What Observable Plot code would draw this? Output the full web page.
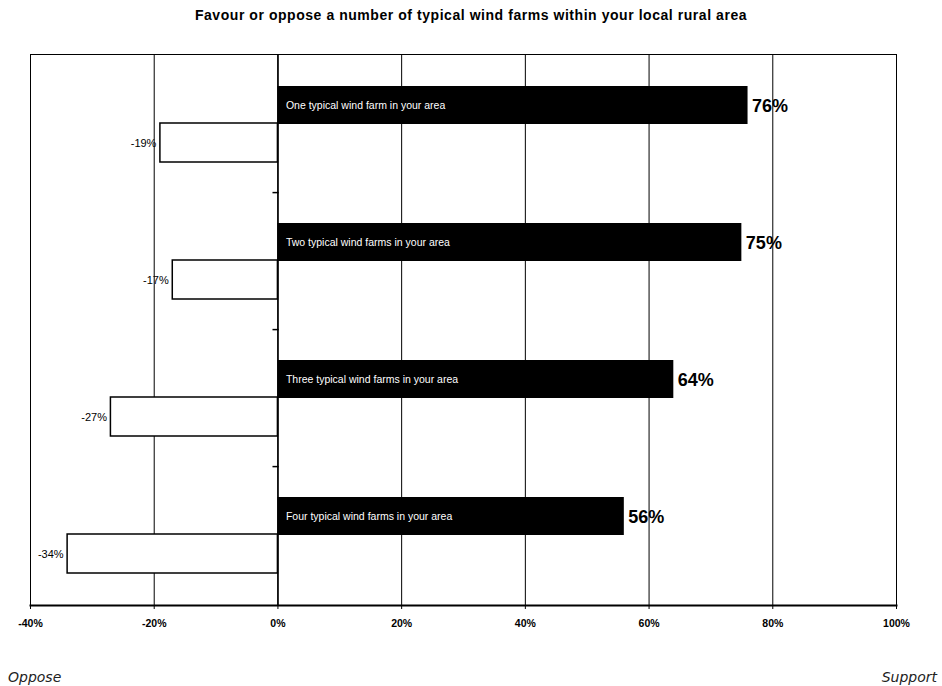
<!DOCTYPE html>
<html>
<head>
<meta charset="utf-8">
<script src="https://cdn.jsdelivr.net/npm/d3@7"></script>
<script src="https://cdn.jsdelivr.net/npm/@observablehq/plot@0.6"></script>
<style>
  body { margin:0; width:942px; height:686px; background:#fff; overflow:hidden; font-family:"Liberation Sans", Arial, sans-serif; }
  #title { height:30px; line-height:30px; text-align:center; font-weight:bold; font-size:14px; letter-spacing:0.55px; color:#000; }
  #chart svg { display:block; }
  #chart g[aria-label="x-axis tick label"] text { font-weight:bold; }
  #captions { position:relative; height:36px; font-family:"DejaVu Sans", sans-serif; font-style:italic; font-size:14px; color:#222; }
  #captions span { position:absolute; top:18px; line-height:18px; }
</style>
</head>
<body>
<div id="title">Favour or oppose a number of typical wind farms within your local rural area</div>
<div id="chart"></div>
<div id="captions"><span style="left:8px">Oppose</span><span style="right:5px">Support</span></div>
<script>
const categories = [
  "One typical wind farm in your area",
  "Two typical wind farms in your area",
  "Three typical wind farms in your area",
  "Four typical wind farms in your area"
];
const support = [76, 75, 64, 56];
const oppose = [-19, -17, -27, -34];
const xTicks = [-40, -20, 0, 20, 40, 60, 80, 100];

const rows = categories.map((c, i) => ({category: c, support: support[i], oppose: oppose[i]}));
const pct = d => d + "%";

const chart = Plot.plot({
  width: 942,
  height: 620,
  marginTop: 24,
  marginBottom: 45,
  marginLeft: 30,
  marginRight: 46,
  style: {fontFamily: "'Liberation Sans Narrow', 'Liberation Sans', Arial, sans-serif", fontSize: "10.5px", color: "#000", background: "#fff"},
  x: {domain: [-40, 100], ticks: xTicks, tickFormat: pct, label: null, tickSize: 4, tickPadding: 10},
  y: {domain: categories, paddingInner: 0.442, paddingOuter: 0.221, axis: null},
  marks: [
    Plot.ruleX(xTicks, {stroke: "#000", strokeWidth: 1}),
    Plot.frame({stroke: "#000", strokeWidth: 1}),
    Plot.frame({anchor: "bottom", stroke: "#000", strokeWidth: 2}),
    Plot.barX(rows, {x: "support", y: "category", fill: "#000", insetBottom: 38}),
    Plot.barX(rows, {x: "oppose", y: "category", fill: "#fff", stroke: "#000", strokeWidth: 1.5, insetTop: 37}),
    Plot.ruleX([0], {stroke: "#000", strokeWidth: 1.5}),
    Plot.ruleY(categories.slice(1), {y: d => d, x1: -0.8, x2: 0.2, dy: -68.9, stroke: "#000", strokeWidth: 1.5}),
    Plot.text(rows, {x: 0, y: "category", text: "category", dx: 8, dy: -19, textAnchor: "start", fill: "#fff", fontSize: 10.5}),
    Plot.text(rows, {x: "support", y: "category", text: d => pct(d.support), dx: 4, dy: -18, textAnchor: "start", fill: "#000", fontSize: 18, fontWeight: "bold", fontFamily: "'Liberation Sans', Arial, sans-serif"}),
    Plot.text(rows, {x: "oppose", y: "category", text: d => pct(d.oppose), dx: -4, dy: 19, textAnchor: "end", fill: "#000", fontSize: 11}),
    Plot.axisX({ticks: xTicks, tickFormat: pct, tickSize: 4, tickPadding: 10, label: null, fontSize: 10.5})
  ]
});
document.getElementById("chart").appendChild(chart);
</script>
</body>
</html>
